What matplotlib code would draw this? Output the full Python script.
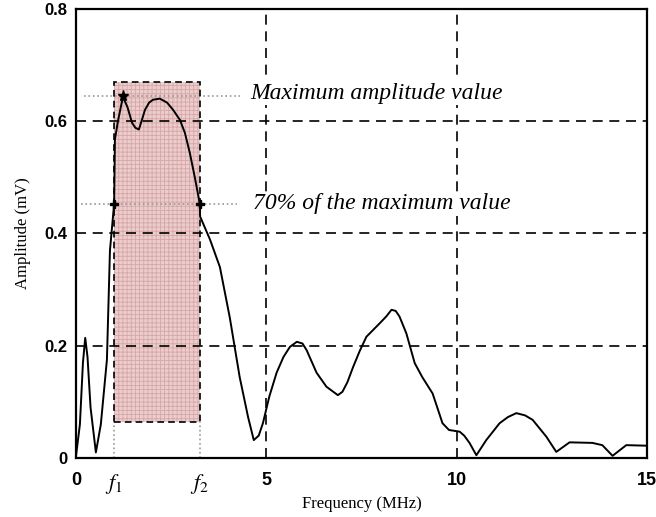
import numpy as np
import matplotlib.pyplot as plt
from matplotlib.patches import Rectangle

plt.rcParams['mathtext.fontset'] = 'stix'
plt.rcParams['hatch.linewidth'] = 0.6

# curve (MHz, mV)
freq = [0.0, 0.1, 0.18, 0.24, 0.3, 0.38, 0.52, 0.65, 0.81, 0.89, 0.93, 1.0, 1.02, 1.1, 1.23,
        1.35, 1.47, 1.56, 1.65, 1.72, 1.81, 1.92, 2.02, 2.2, 2.39, 2.55, 2.73, 2.86, 2.99, 3.12, 3.25,
        3.26, 3.52, 3.78, 4.04, 4.3, 4.52, 4.67, 4.8, 4.91, 5.08, 5.27, 5.45, 5.62, 5.8, 5.95, 6.06,
        6.32, 6.58, 6.88, 7.0, 7.13, 7.28, 7.45, 7.63, 7.98, 8.15, 8.29, 8.4, 8.5, 8.68, 8.9, 9.1,
        9.37, 9.63, 9.8, 10.08, 10.2, 10.34, 10.52, 10.78, 11.13, 11.35, 11.57, 11.8, 12.0,
        12.36, 12.62, 12.97, 13.57, 13.83, 14.1, 14.46, 15.0]
amp = [0.005, 0.06, 0.17, 0.214, 0.18, 0.09, 0.01, 0.06, 0.175, 0.37, 0.40, 0.453, 0.567, 0.6, 0.643,
       0.625, 0.597, 0.588, 0.585, 0.6, 0.62, 0.633, 0.638, 0.64, 0.633, 0.62, 0.602, 0.579, 0.543,
       0.50, 0.453,
       0.43, 0.389, 0.34, 0.25, 0.144, 0.073, 0.032, 0.04, 0.062, 0.11, 0.152, 0.18, 0.198, 0.207,
       0.204, 0.192,
       0.152, 0.127, 0.112, 0.118, 0.135, 0.162, 0.19, 0.216, 0.24, 0.252, 0.264, 0.262, 0.252,
       0.222, 0.169, 0.144,
       0.115, 0.062, 0.05, 0.047, 0.04, 0.027, 0.005, 0.032, 0.062, 0.073, 0.08, 0.076, 0.068,
       0.038, 0.011, 0.028, 0.027, 0.023, 0.004, 0.023, 0.022]

f1 = 1.0
f2 = 3.25
f_peak = 1.23
max_amp = 0.645
amp70 = 0.453
box_low, box_high = 0.064, 0.67

xticks = [0, f1, f2, 5, 10, 15]
xticklabels = ['0', '$\\mathbf{\\it{f}}_1$', '$\\mathbf{\\it{f}}_2$', '5', '10', '15']
yticks = [0, 0.2, 0.4, 0.6, 0.8]
yticklabels = ['0', '0.2', '0.4', '0.6', '0.8']

fig = plt.figure(figsize=(6.56, 5.17), dpi=100)
ax = fig.add_axes([0.116, 0.114, 0.87, 0.869])

# shaded band between f1 and f2
ax.add_patch(Rectangle((f1, box_low), f2 - f1, box_high - box_low,
                       facecolor='#ebcdcd', edgecolor='#d7a6a6', linewidth=0,
                       hatch='++++', zorder=1))
ax.add_patch(Rectangle((f1, box_low), f2 - f1, box_high - box_low,
                       facecolor='none', edgecolor='black', linewidth=1.2,
                       linestyle=(0, (4, 2.5)), zorder=3))

# grid
for gx in [5, 10]:
    ax.axvline(gx, color='black', linestyle=(0, (6, 4)), linewidth=1.2, zorder=2)
for gy in [0.2, 0.4, 0.6]:
    ax.axhline(gy, color='black', linestyle=(0, (6, 4)), linewidth=1.2, zorder=2)

# dotted guides
ax.plot([0.2, 4.3], [max_amp, max_amp], color='#999999', linestyle=':', linewidth=1.2, zorder=2)
ax.plot([0.13, 4.23], [amp70, amp70], color='#999999', linestyle=':', linewidth=1.2, zorder=2)
for fx in [f1, f2]:
    ax.plot([fx, fx], [0, box_low], color='#999999', linestyle=':', linewidth=1.2, zorder=2)

ax.plot(freq, amp, color='black', linewidth=1.4, zorder=4)
ax.plot([f1, f2], [amp70, amp70], linestyle='none', marker='P', color='black',
        markersize=6, zorder=5)
ax.plot([f_peak], [max_amp], linestyle='none', marker='*', color='black',
        markersize=8, zorder=5)

box = dict(facecolor='white', edgecolor='none', pad=1)
ax.text(4.57, 0.65, 'Maximum amplitude value', family='Liberation Serif',
        style='italic', fontsize=17, va='center', ha='left', bbox=box, zorder=6)
ax.text(4.65, 0.453, '70% of the maximum value', family='Liberation Serif',
        style='italic', fontsize=17, va='center', ha='left', bbox=box, zorder=6)

ax.set_xlim(0, 15)
ax.set_ylim(0, 0.8)
ax.set_xticks(xticks)
ax.set_xticklabels(xticklabels, fontsize=13, fontweight='bold', family='Liberation Sans')
for lab in ax.get_xticklabels()[1:3]:
    lab.set_fontsize(16)
ax.set_yticks(yticks)
ax.set_yticklabels(yticklabels, fontsize=12, fontweight='bold', family='Liberation Sans')
ax.tick_params(axis='x', length=0, pad=10)
ax.tick_params(axis='y', length=0, pad=6)
for s in ax.spines.values():
    s.set_linewidth(1.6)

ax.set_xlabel('Frequency (MHz)', family='Liberation Serif', fontsize=12, labelpad=0)
ax.set_ylabel('Amplitude (mV)', family='Liberation Serif', fontsize=12, labelpad=10)

fig.savefig('out.png', dpi=100)
